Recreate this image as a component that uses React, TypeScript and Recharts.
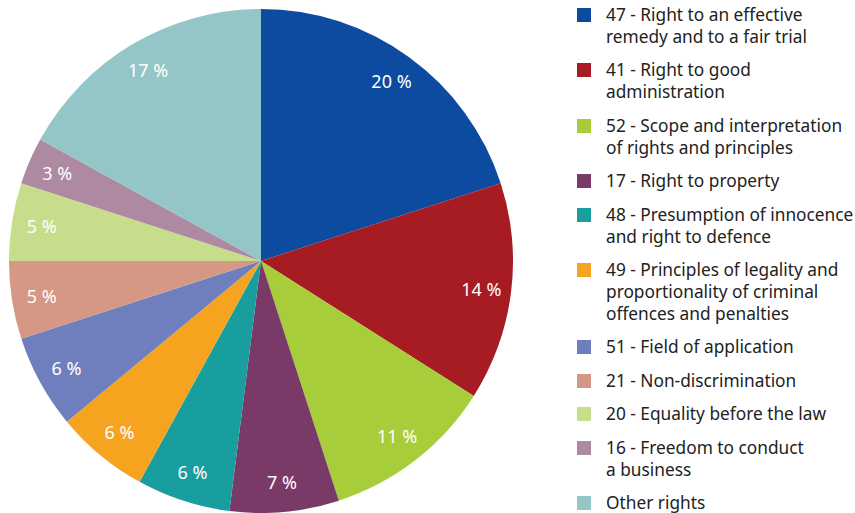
import React from "react";
import { Cell, Legend, Pie, PieChart } from "recharts";

const rights = [
  "47 - Right to an effective\nremedy and to a fair trial",
  "41 - Right to good\nadministration",
  "52 - Scope and interpretation\nof rights and principles",
  "17 - Right to property",
  "48 - Presumption of innocence\nand right to defence",
  "49 - Principles of legality and\nproportionality of criminal\noffences and penalties",
  "51 - Field of application",
  "21 - Non-discrimination",
  "20 - Equality before the law",
  "16 - Freedom to conduct\na business",
  "Other rights",
];

const shares = [20, 14, 11, 7, 6, 6, 6, 5, 5, 3, 17];

const colors = [
  "#0C4BA0",
  "#A61C22",
  "#A7CD3A",
  "#7A3A68",
  "#189E9E",
  "#F6A41F",
  "#6F7FBE",
  "#D49884",
  "#C8DD8B",
  "#AD89A2",
  "#94C6C7",
];

const data = rights.map((name, i) => ({ name, value: shares[i] }));

const FONT = "'Noto Sans', sans-serif";
const RAD = Math.PI / 180;

const renderLabel = (props: any) => {
  const { cx, cy, midAngle, value } = props;
  const r = 222;
  const x = cx + r * Math.cos(-midAngle * RAD);
  const y = cy + r * Math.sin(-midAngle * RAD);
  return (
    <text
      x={x}
      y={y}
      fill="#fff"
      fontSize={18}
      fontFamily={FONT}
      textAnchor="middle"
      dominantBaseline="central"
    >
      {`${value} %`}
    </text>
  );
};

const LegendList = () => (
  <div style={{ fontFamily: FONT, fontSize: 17.3, color: "#222" }}>
    {data.map((d, i) => (
      <div key={d.name} style={{ display: "flex", marginBottom: 11.4 }}>
        <div
          style={{
            width: 14,
            height: 14,
            background: colors[i],
            marginTop: 4,
            marginRight: 15,
            flexShrink: 0,
          }}
        />
        <div style={{ lineHeight: "22px", whiteSpace: "pre" }}>{d.name}</div>
      </div>
    ))}
  </div>
);

export default function App() {
  return (
    <div style={{ position: "absolute", left: 0, top: 0 }}>
      <PieChart
        width={855}
        height={513}
        margin={{ top: 0, right: 0, bottom: 0, left: 0 }}
      >
        <Pie
          data={data}
          dataKey="value"
          cx={261}
          cy={261}
          outerRadius={252}
          startAngle={90}
          endAngle={-270}
          stroke="none"
          label={renderLabel}
          labelLine={false}
          isAnimationActive={false}
        >
          {data.map((d, i) => (
            <Cell key={d.name} fill={colors[i]} />
          ))}
        </Pie>
        <Legend
          layout="vertical"
          verticalAlign="top"
          align="right"
          content={() => <LegendList />}
          wrapperStyle={{ top: 4, left: 577, width: 278 }}
        />
      </PieChart>
    </div>
  );
}
